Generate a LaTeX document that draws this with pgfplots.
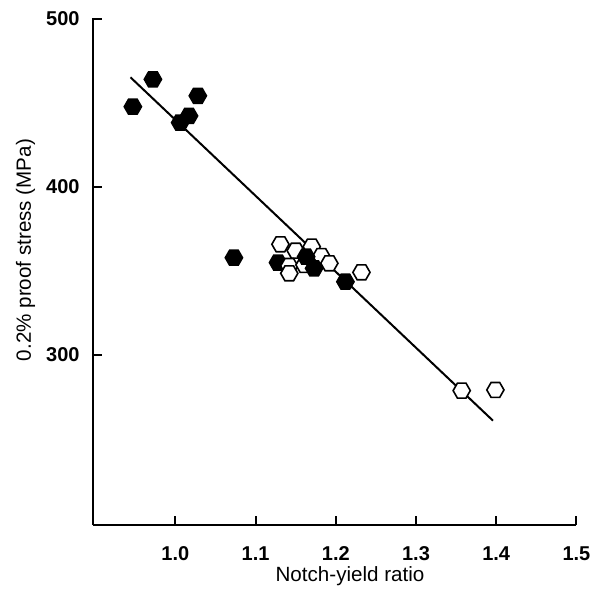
\documentclass[border=0pt]{standalone}
\usepackage{fontspec}
\setmainfont{Liberation Sans}
\usepackage{pgfplots}
\pgfplotsset{compat=1.18}

% flat-topped hexagon; its fill colour comes from the mark options
\pgfdeclareplotmark{hexagon}{%
  \pgfpathmoveto{\pgfpointpolar{0}{\pgfplotmarksize}}%
  \pgfpathlineto{\pgfpointpolar{60}{\pgfplotmarksize}}%
  \pgfpathlineto{\pgfpointpolar{120}{\pgfplotmarksize}}%
  \pgfpathlineto{\pgfpointpolar{180}{\pgfplotmarksize}}%
  \pgfpathlineto{\pgfpointpolar{240}{\pgfplotmarksize}}%
  \pgfpathlineto{\pgfpointpolar{300}{\pgfplotmarksize}}%
  \pgfpathclose
  \pgfusepathqfillstroke}

\begin{document}
\begin{tikzpicture}
\path[use as bounding box] (-46.5pt,-31.5pt) rectangle (255.5pt,262.5pt);
\begin{axis}[
  scale only axis,
  width=241.7pt, height=253.5pt,
  xmin=0.8973, xmax=1.5,
  ymin=198.8, ymax=500.6,
  axis lines=left,
  axis line style={-, line width=1.3pt},
  xtick={1.0,1.1,1.2,1.3,1.4,1.5},
  ytick={300,400,500},
  xticklabel style={/pgf/number format/fixed, /pgf/number format/fixed zerofill,
    /pgf/number format/precision=1},
  tick align=inside,
  major tick length=4.5pt,
  tick style={black, line width=1pt},
  /pgf/number format/assume math mode=true,
  ticklabel style={font=\bfseries\fontsize{10}{12}\selectfont},
  xticklabel style={anchor=base, yshift=-17.5pt},
  yticklabel style={anchor=east, xshift=-3.2pt},
  xlabel={Notch-yield ratio},
  ylabel={0.2\% proof stress (MPa)},
  label style={font=\fontsize{10.3}{12}\selectfont},
  xlabel style={at={(axis description cs:0.5317,-0.1124)}, anchor=base},
  ylabel style={at={(axis description cs:-0.1396,0.5424)}, anchor=center},
  clip=false,
]
% fitted line
\addplot[black, line width=1pt] coordinates {(0.944,465.3) (1.396,260.9)};

% filled specimens
\addplot[only marks, mark=hexagon, mark size=4.3pt,
  mark options={draw=black, fill=black, line width=0.8pt}] coordinates {
  (0.947,447.8) (0.972,464.1) (1.028,454.3) (1.017,442.3) (1.006,438.3)
  (1.073,357.9) (1.128,355.0) (1.212,343.6)
};

% open specimens
\addplot[only marks, mark=hexagon, mark size=4.3pt,
  mark options={draw=black, fill=white, line width=0.8pt}] coordinates {
  (1.131,365.9) (1.150,362.1) (1.170,364.5) (1.182,358.9)
  (1.142,353.0) (1.142,348.6) (1.161,353.6) (1.192,354.6) (1.232,349.2)
  (1.357,278.8) (1.399,279.2)
};

% filled specimens lying over the open ones
\addplot[only marks, mark=hexagon, mark size=4.3pt,
  mark options={draw=black, fill=black, line width=0.8pt}] coordinates {
  (1.163,358.5) (1.173,351.6)
};
\end{axis}
\end{tikzpicture}
\end{document}
